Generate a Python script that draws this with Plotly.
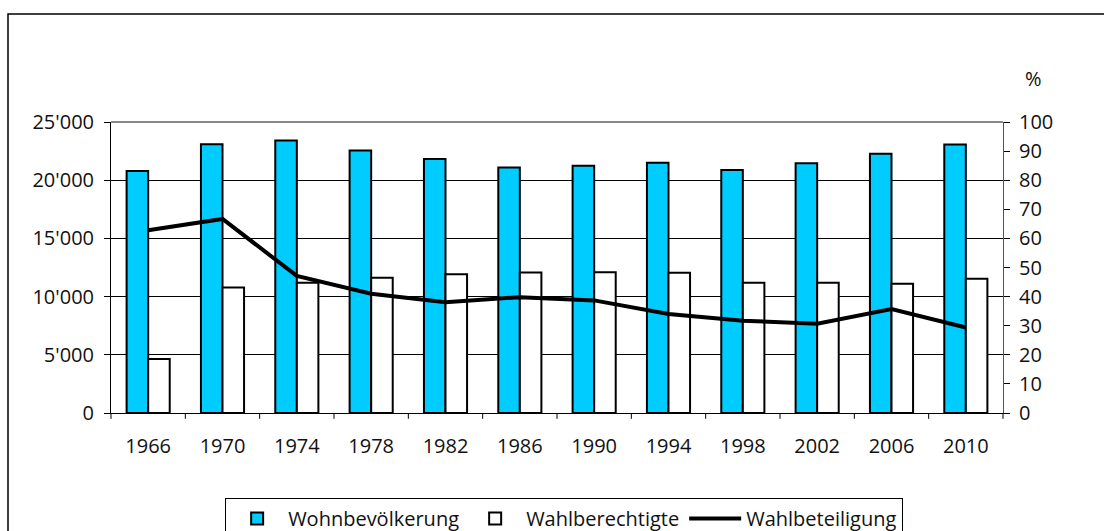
import plotly.graph_objects as go

years = ["1966", "1970", "1974", "1978", "1982", "1986", "1990", "1994", "1998", "2002", "2006", "2010"]
wohnbevoelkerung = [20800, 23090, 23400, 22550, 21830, 21100, 21250, 21490, 20880, 21460, 22280, 23070]
wahlberechtigte = [4630, 10780, 11200, 11620, 11930, 12070, 12100, 12040, 11200, 11180, 11100, 11530]
wahlbeteiligung = [62.8, 66.7, 47.1, 41.0, 38.1, 39.8, 38.7, 34.0, 31.7, 30.7, 35.7, 29.4]

FONT = "Open Sans"
FS = 20

fig = go.Figure()
fig.add_trace(go.Bar(
    x=years, y=wohnbevoelkerung, name="Wohnbevölkerung",
    marker=dict(color="#00CCFF", line=dict(color="#000000", width=2)),
))
fig.add_trace(go.Bar(
    x=years, y=wahlberechtigte, name="Wahlberechtigte",
    marker=dict(color="#FFFFFF", line=dict(color="#000000", width=2)),
))
fig.add_trace(go.Scatter(
    x=years, y=wahlbeteiligung, name="Wahlbeteiligung", yaxis="y2",
    mode="lines", line=dict(color="#000000", width=4),
))

fig.update_layout(
    width=1104, height=531,
    margin=dict(l=111, r=101, t=122, b=118, autoexpand=False),
    paper_bgcolor="white", plot_bgcolor="white",
    font=dict(family=FONT, size=FS, color="#111111"),
    separators=".'",
    barmode="group", bargap=0.42, bargroupgap=0,
    showlegend=True,
    legend=dict(
        orientation="h", x=0.508, xanchor="center", y=(413 - 498) / 291, yanchor="top",
        bordercolor="#000000", borderwidth=1, font=dict(size=FS),
        itemwidth=52, tracegroupgap=0,
    ),
    xaxis=dict(
        type="category", showline=True, linecolor="#000000", linewidth=1,
        ticks="", showgrid=False, tickfont=dict(size=FS), ticklabelstandoff=15,
    ),
    yaxis=dict(
        range=[0, 25000], dtick=5000, tickformat=",d",
        showline=True, linecolor="#000000", linewidth=1,
        ticks="outside", ticklen=6, tickcolor="#000000",
        showgrid=True, gridcolor="#000000", gridwidth=1,
        zeroline=False, tickfont=dict(size=FS), ticklabelstandoff=6,
    ),
    yaxis2=dict(
        range=[0, 100], dtick=10, overlaying="y", side="right",
        showline=True, linecolor="#555555", linewidth=1,
        ticks="outside", ticklen=6, tickcolor="#000000",
        showgrid=False, zeroline=False, tickfont=dict(size=FS), ticklabelstandoff=5,
    ),
)

# category separator ticks on x axis
shapes = []
n = len(years)
for i in range(n + 1):
    shapes.append(dict(type="line", xref="x domain", yref="paper",
                       x0=i / n, x1=i / n, y0=0, y1=-0.02,
                       line=dict(color="#000000", width=1)))
# top frame of plot area
shapes.append(dict(type="line", xref="paper", yref="paper", x0=0, x1=1, y0=1, y1=1,
                   line=dict(color="#888888", width=2)))
# outer chart frame
shapes.append(dict(type="rect", xref="paper", yref="paper",
                   x0=(8 - 111) / 892, x1=(1110 - 111) / 892,
                   y0=(413 - 540) / 291, y1=(413 - 14) / 291,
                   line=dict(color="#000000", width=1.5), fillcolor="rgba(0,0,0,0)", layer="below"))
fig.update_layout(shapes=shapes)

fig.add_annotation(text="%", xref="paper", yref="paper",
                   x=(1033 - 111) / 892, y=(413 - 78) / 291,
                   showarrow=False, font=dict(size=FS, family=FONT), xanchor="center", yanchor="middle")

fig.write_html("out.html", config={"displayModeBar": False},
               post_script="document.body.style.margin='0';document.body.style.padding='0';document.body.style.overflow='hidden';")
